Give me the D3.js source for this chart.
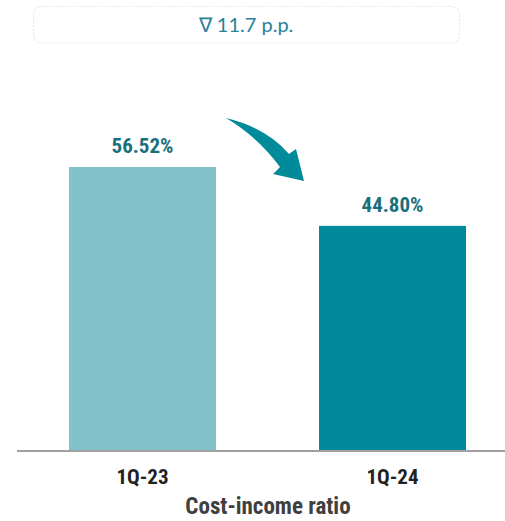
<!DOCTYPE html>
<html>
<head>
<meta charset="utf-8">
<script src="https://cdn.jsdelivr.net/npm/d3@7"></script>
<style>
  html, body { margin: 0; padding: 0; background: #fff; }
  svg { display: block; }
</style>
</head>
<body>
<svg id="chart" width="505" height="521"></svg>
<script>
// Cost-income ratio, 1Q-23 vs 1Q-24
const categories = ["1Q-23", "1Q-24"];
const values = [56.52, 44.80];
const valueLabels = ["56.52%", "44.80%"];
const barColors = ["#84c2cb", "#008a9a"];
const changeLabel = "\u2207 11.7 p.p.";
const axisTitle = "Cost-income ratio";

const W = 505, H = 521;
const narrow = "'Liberation Sans Narrow', 'Arial Narrow', 'Roboto Condensed', sans-serif";
const svg = d3.select("#chart");

const baseY = 451;
const x = d3.scaleBand()
  .domain(categories)
  .range([17, 518])
  .paddingInner(0.412)
  .paddingOuter(0.208);

const y = d3.scaleLinear()
  .domain([0, 80])
  .range([baseY, baseY - 80 * 5.025]);

// Change badge at the top
svg.append("rect")
  .attr("x", 33.5).attr("y", 6.5)
  .attr("width", 426).attr("height", 36.5)
  .attr("rx", 8).attr("ry", 8)
  .attr("fill", "#fff")
  .attr("stroke", "#e6e8ea")
  .attr("stroke-width", 1.2)
  .attr("stroke-dasharray", "2,1.5");

svg.append("text")
  .attr("x", 246).attr("y", 32)
  .attr("text-anchor", "middle")
  .attr("font-family", "Lato, 'Open Sans', sans-serif")
  .attr("font-size", 20)
  .attr("fill", "#2b819a")
  .text(changeLabel);

// Bars
svg.selectAll("rect.bar")
  .data(values)
  .join("rect")
  .attr("class", "bar")
  .attr("x", (d, i) => x(categories[i]))
  .attr("y", d => y(d))
  .attr("width", x.bandwidth())
  .attr("height", d => baseY - y(d))
  .attr("fill", (d, i) => barColors[i]);

// Value labels
svg.selectAll("text.val")
  .data(values)
  .join("text")
  .attr("class", "val")
  .attr("x", (d, i) => x(categories[i]) + x.bandwidth() / 2)
  .attr("y", d => y(d) - 14)
  .attr("text-anchor", "middle")
  .attr("font-family", narrow)
  .attr("font-weight", "bold")
  .attr("font-size", 21)
  .attr("fill", "#1a6f7c")
  .text((d, i) => valueLabels[i]);

// Baseline axis
const axis = d3.axisBottom(x).tickSize(0).tickPadding(0);
const gAxis = svg.append("g")
  .attr("transform", `translate(0,${baseY})`)
  .call(axis);
gAxis.select(".domain")
  .attr("d", `M17,0H${W}`)
  .attr("stroke", "#a0a0a0")
  .attr("stroke-width", 2);
gAxis.selectAll(".tick text")
  .attr("dy", null)
  .attr("y", 33)
  .attr("font-family", narrow)
  .attr("font-weight", "bold")
  .attr("font-size", 21)
  .attr("fill", "#222");

// Axis title
svg.append("text")
  .attr("x", 268).attr("y", 514)
  .attr("text-anchor", "middle")
  .attr("font-family", narrow)
  .attr("font-weight", "bold")
  .attr("font-size", 23)
  .attr("fill", "#404040")
  .text(axisTitle);

// Curved arrow pointing from the first bar down to the second
svg.append("path")
  .attr("d", "M226,118 Q267,128 289,154 L296,149 L304,181 L273,174 L280,167 Q258,137 226,118 Z")
  .attr("fill", "#008a9a");
</script>
</body>
</html>
